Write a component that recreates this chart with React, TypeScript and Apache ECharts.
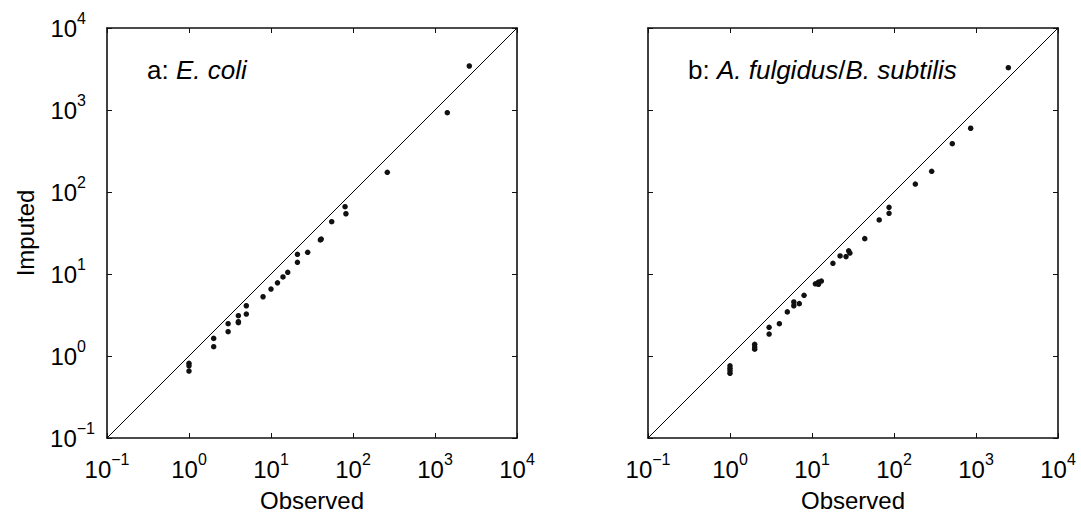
import React, { useEffect, useRef } from "react";
import * as echarts from "echarts";

const FONT = '"Liberation Sans", Arial, Helvetica, sans-serif';
const INK = "#111111";

// Panel a: E. coli
const observedEcoli = [1, 1, 1, 2, 2, 3, 3, 4, 4, 4, 5, 5, 8, 10, 12, 14, 16, 21, 21, 28, 41, 40, 55, 80, 82, 262, 1413, 2620];
const imputedEcoli = [0.815, 0.76, 0.656, 1.64, 1.3, 2.48, 1.98, 3.1, 2.62, 2.55, 4.1, 3.25, 5.28, 6.56, 7.8, 9.2, 10.5, 17.4, 13.9, 18.4, 26.7, 26.0, 43.4, 66.2, 54.3, 174, 927, 3440];

// Panel b: A. fulgidus / B. subtilis
const observedAfBs = [1, 1, 1, 1, 2, 2, 2, 3, 3, 4, 5, 6, 6, 7, 8, 11, 12, 12, 13, 18, 22, 26, 28, 29, 44, 66, 87, 87, 182, 288, 514, 861, 2480];
const imputedAfBs = [0.76, 0.708, 0.66, 0.615, 1.39, 1.29, 1.21, 2.24, 1.85, 2.48, 3.45, 4.56, 4.1, 4.35, 5.5, 7.6, 7.98, 7.5, 8.2, 13.5, 16.6, 16.3, 19.2, 18, 27, 45.6, 65, 55, 125, 179, 388, 599, 3280];

// y = x reference line
const diagonalX = [0.1, 10000];
const diagonalY = [0.1, 10000];

const axisMin = 0.1;
const axisMax = 10000;

const xTitle = "Observed";
const yTitle = "Imputed";

function pairs(xs: number[], ys: number[]) {
  return xs.map((x, i) => [x, ys[i]]);
}

function expLabelX(v: number) {
  const e = Math.round(Math.log10(v));
  const s = e < 0 ? "\u2212" + -e : String(e);
  return `{b|10}{s|${s}}`;
}
function expLabelY(v: number) {
  const e = Math.round(Math.log10(v));
  return e < 0 ? `{b|10}{s|\u2212${-e}}` : `{b|10}{p|${e}}`;
}

const tickFont = 24;
const supFont = 16;
const richX = {
  b: { fontSize: tickFont, lineHeight: 36, fontFamily: FONT, color: "#000" },
  s: { fontSize: supFont, lineHeight: 8, verticalAlign: "top", fontFamily: FONT, color: "#000" },
};
const richY = {
  b: { fontSize: tickFont, lineHeight: 36, fontFamily: FONT, color: "#000" },
  s: { fontSize: supFont, lineHeight: 8, verticalAlign: "top", fontFamily: FONT, color: "#000" },
  p: { fontSize: supFont, lineHeight: 8, verticalAlign: "top", padding: [0, 9, 0, 0], fontFamily: FONT, color: "#000" },
};

const axisLine = { show: true, lineStyle: { color: INK, width: 1.6 } };
const axisTick = { show: true, inside: true, length: 5, lineStyle: { color: INK, width: 1 } };

function baseAxis(gridIndex: number) {
  return {
    type: "log",
    logBase: 10,
    gridIndex,
    min: axisMin,
    max: axisMax,
    splitNumber: 5,
    splitLine: { show: false },
    minorTick: { show: false },
    axisLine,
    axisTick,
  };
}

export default function App() {
  const ref = useRef<HTMLDivElement>(null);
  useEffect(() => {
    if (!ref.current) return;
    const chart = echarts.init(ref.current, undefined, { renderer: "svg" });
    const grids = [
      { left: 107, top: 28, width: 410, height: 410 },
      { left: 648, top: 28, width: 410, height: 410 },
    ];
    const xAxis: any[] = [];
    const yAxis: any[] = [];
    [0, 1].forEach((g) => {
      xAxis.push({
        ...baseAxis(g),
        position: "bottom",
        name: xTitle,
        nameLocation: "middle",
        nameGap: 50,
        nameTextStyle: { fontSize: 24, fontFamily: FONT, color: "#000" },
        axisLabel: { margin: 13, formatter: expLabelX, rich: richX },
      });
      xAxis.push({ ...baseAxis(g), position: "top", axisLabel: { show: false } });
      yAxis.push({
        ...baseAxis(g),
        position: "left",
        name: g === 0 ? yTitle : "",
        nameLocation: "middle",
        nameGap: 70,
        nameTextStyle: { fontSize: 24, fontFamily: FONT, color: "#000" },
        axisLabel: { show: g === 0, margin: 12, formatter: expLabelY, rich: richY },
      });
      yAxis.push({ ...baseAxis(g), position: "right", axisLabel: { show: false } });
    });

    const series: any[] = [];
    const sets = [
      [observedEcoli, imputedEcoli],
      [observedAfBs, imputedAfBs],
    ];
    sets.forEach(([xs, ys], g) => {
      series.push({
        type: "line",
        xAxisIndex: g * 2,
        yAxisIndex: g * 2,
        data: pairs(diagonalX, diagonalY),
        symbol: "none",
        lineStyle: { color: "#000", width: 1 },
        silent: true,
      });
      series.push({
        type: "scatter",
        xAxisIndex: g * 2,
        yAxisIndex: g * 2,
        data: pairs(xs, ys),
        symbol: "circle",
        symbolSize: 5.5,
        itemStyle: { color: INK, opacity: 1 },
        silent: true,
      });
    });

    const annRich = {
      n: { fontSize: 26, fontFamily: FONT, fill: "#000" },
      i: { fontSize: 26, fontFamily: FONT, fontStyle: "italic", fill: "#000" },
    };

    chart.setOption({
      animation: false,
      backgroundColor: "#fff",
      grid: grids,
      xAxis,
      yAxis,
      series,
      graphic: [
        {
          type: "text",
          x: 147,
          y: 70,
          style: { text: "{n|a: }{i|E. coli}", verticalAlign: "middle", rich: annRich },
        },
        {
          type: "text",
          x: 688,
          y: 70,
          style: { text: "{n|b: }{i|A. fulgidus}{n|/}{i|B. subtilis}", verticalAlign: "middle", rich: annRich },
        },
      ],
    });
    return () => chart.dispose();
  }, []);
  return <div ref={ref} style={{ position: "absolute", left: 0, top: 0, width: 1081, height: 519 }} />;
}
